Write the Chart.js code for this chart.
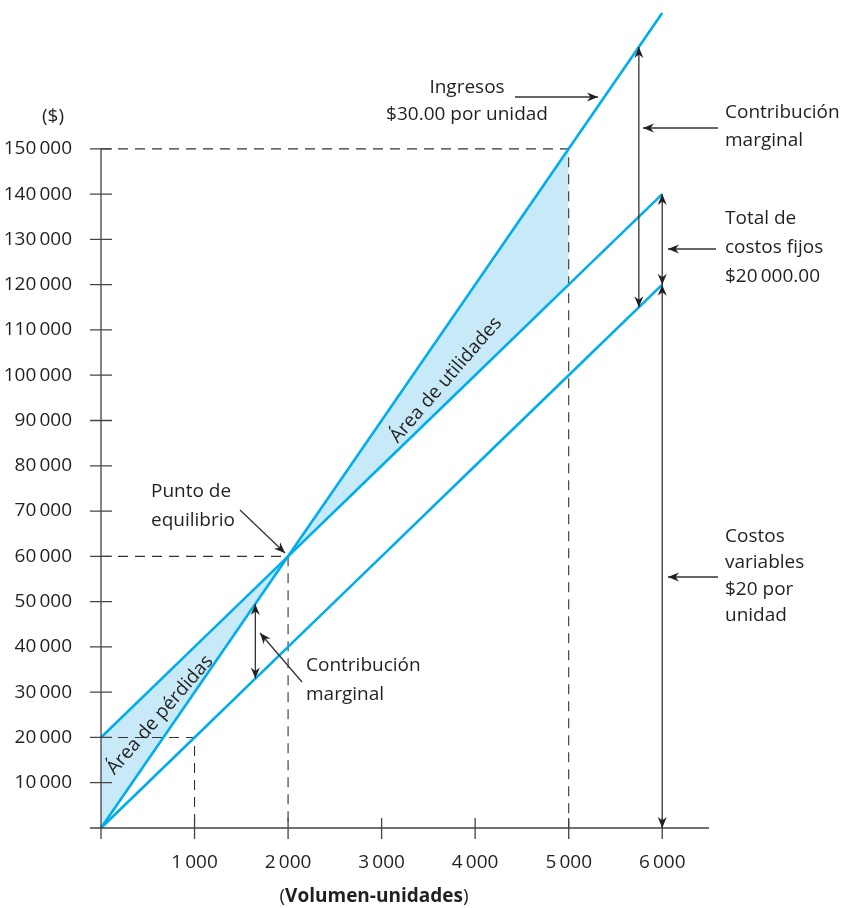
<!DOCTYPE html>
<html><head><meta charset="utf-8">
<script src="https://cdn.jsdelivr.net/npm/chart.js@4/dist/chart.umd.min.js"></script>
<style>html,body{margin:0;padding:0;background:#fff;}#wrap{width:848px;height:908px;position:relative;}</style>
</head><body><div id="wrap"><canvas id="c" width="848" height="908"></canvas></div>
<script>
// ---- data ----
const volume = [0, 1000, 2000, 3000, 4000, 5000, 6000];
const revenue = [0, 30000, 60000, 90000, 120000, 150000, 180000];
const totalCost = [20000, 40000, 60000, 80000, 100000, 120000, 140000];
const variableCost = [0, 20000, 40000, 60000, 80000, 100000, 120000];
const xTickValues = [1000, 2000, 3000, 4000, 5000, 6000];
const xTickLabels = ['1\u2009000', '2\u2009000', '3\u2009000', '4\u2009000', '5\u2009000', '6\u2009000'];
const yTickValues = [10000, 20000, 30000, 40000, 50000, 60000, 70000, 80000, 90000, 100000, 110000, 120000, 130000, 140000, 150000];
const yTickLabels = ['10\u2009000', '20\u2009000', '30\u2009000', '40\u2009000', '50\u2009000', '60\u2009000', '70\u2009000', '80\u2009000', '90\u2009000', '100\u2009000', '110\u2009000', '120\u2009000', '130\u2009000', '140\u2009000', '150\u2009000'];
const profitEndVolume = 5000;
const breakEven = [2000, 60000];
const profitEnd = [5000, 150000];
const fixedRef = [1000, 20000];

const CYAN = '#00aeef';
const FILL = '#c7e9f8';
const INK = '#231f20';
const FONT = '"Open Sans", "DejaVu Sans", sans-serif';

const pts = (ys) => volume.map((x, i) => ({x, y: ys[i]}));
const ptsUpTo = (ys, lim) => volume.map((x, i) => ({x, y: ys[i]})).filter(p => p.x <= lim);
const refLine = (r) => [{x: 0, y: r[1]}, {x: r[0], y: r[1]}, {x: r[0], y: 0}];

const lineDs = (data) => ({data, borderColor: CYAN, borderWidth: 2.6, pointRadius: 0, fill: false, tension: 0, order: 0, clip: false});
const dashDs = (data) => ({data, borderColor: '#333', borderWidth: 1.1, borderDash: [10, 7], pointRadius: 0, fill: false, tension: 0, order: 1});

function arrowHead(ctx, x, y, ang) {
  ctx.save();
  ctx.translate(x, y); ctx.rotate(ang);
  ctx.beginPath();
  ctx.moveTo(0, 0); ctx.lineTo(-11, -4.5); ctx.lineTo(-7.5, 0); ctx.lineTo(-11, 4.5); ctx.closePath();
  ctx.fillStyle = INK; ctx.fill();
  ctx.restore();
}
function arrow(ctx, x1, y1, x2, y2, both) {
  ctx.save();
  ctx.strokeStyle = '#333'; ctx.lineWidth = 1.3; ctx.setLineDash([]);
  ctx.beginPath(); ctx.moveTo(x1, y1); ctx.lineTo(x2, y2); ctx.stroke();
  const a = Math.atan2(y2 - y1, x2 - x1);
  arrowHead(ctx, x2, y2, a);
  if (both) arrowHead(ctx, x1, y1, a + Math.PI);
  ctx.restore();
}

const annot = {
  id: 'annot',
  afterDraw(chart) {
    const ctx = chart.ctx, xs = chart.scales.x, ys = chart.scales.y;
    const px = v => xs.getPixelForValue(v), py = v => ys.getPixelForValue(v);
    ctx.save();
    // axes
    ctx.strokeStyle = '#444'; ctx.lineWidth = 1.3;
    ctx.beginPath();
    ctx.moveTo(px(0), py(0) + 11); ctx.lineTo(px(0), py(150000));
    ctx.moveTo(px(0) - 11, py(0)); ctx.lineTo(chart.chartArea.right, py(0));
    yTickValues.forEach(v => { ctx.moveTo(px(0) - 11, py(v)); ctx.lineTo(px(0) + 11, py(v)); });
    xTickValues.forEach(v => { ctx.moveTo(px(v), py(0) - 10); ctx.lineTo(px(v), py(0) + 11); });
    ctx.stroke();

    // double arrows
    arrow(ctx, px(5750), py(5750 * 30), px(5750), py(5750 * 20), true);
    arrow(ctx, px(6000), py(140000), px(6000), py(120000), true);
    arrow(ctx, px(6000), py(120000), px(6000), py(0), true);
    arrow(ctx, px(1650), py(1650 * 30), px(1650), py(1650 * 20), true);
    // label arrows
    arrow(ctx, 515, 97, 598, 97);
    arrow(ctx, 718, 128, 643, 128);
    arrow(ctx, 716, 249, 668, 249);
    arrow(ctx, 718, 577, 668, 577);
    arrow(ctx, 240, 510, 285, 553);
    arrow(ctx, 302, 682, 260, 633);

    // texts
    ctx.fillStyle = INK;
    ctx.font = '19px ' + FONT;
    ctx.textBaseline = 'middle';
    ctx.textAlign = 'center';
    ctx.fillText('($)', 53, 117);
    ctx.fillText('Ingresos', 467, 88);
    ctx.fillText('$30.00 por unidad', 467, 115);
    ctx.textAlign = 'left';
    [['Contribución', 113], ['marginal', 141], ['Total de', 219], ['costos fijos', 248], ['$20\u2009000.00', 277],
     ['Costos', 537], ['variables', 563], ['$20 por', 590], ['unidad', 616]].forEach(([t, y]) => ctx.fillText(t, 725, y));
    ctx.fillText('Punto de', 151, 492);
    ctx.fillText('equilibrio', 151, 521);
    ctx.fillText('Contribución', 306, 666);
    ctx.fillText('marginal', 306, 695);

    // rotated labels
    ctx.textAlign = 'center';
    ctx.save(); ctx.translate(446, 380); ctx.rotate(-49 * Math.PI / 180); ctx.fillText('Área de utilidades', 0, 0); ctx.restore();
    ctx.save(); ctx.translate(160, 715); ctx.rotate(-49 * Math.PI / 180); ctx.fillText('Área de pérdidas', 0, 0); ctx.restore();

    // x title
    const pL = '(', mid = 'Volumen-unidades', pR = ')';
    ctx.font = '19px ' + FONT; const wL = ctx.measureText(pL).width, wR = ctx.measureText(pR).width;
    ctx.font = 'bold 19px ' + FONT; const wM = ctx.measureText(mid).width;
    let x0 = 374 - (wL + wM + wR) / 2;
    ctx.textAlign = 'left';
    ctx.font = '19px ' + FONT; ctx.fillText(pL, x0, 897);
    ctx.font = 'bold 19px ' + FONT; ctx.fillText(mid, x0 + wL, 897);
    ctx.font = '19px ' + FONT; ctx.fillText(pR, x0 + wL + wM, 897);
    ctx.restore();
  }
};

new Chart(document.getElementById('c'), {
  type: 'line',
  data: {
    datasets: [
      lineDs(pts(revenue)),
      lineDs(pts(totalCost)),
      lineDs(pts(variableCost)),
      {data: ptsUpTo(revenue, profitEndVolume), borderWidth: 0, pointRadius: 0, tension: 0, backgroundColor: FILL, fill: {target: 4}, order: 2},
      {data: ptsUpTo(totalCost, profitEndVolume), borderWidth: 0, pointRadius: 0, tension: 0, fill: false, order: 2},
      dashDs(refLine(profitEnd)),
      dashDs(refLine(breakEven)),
      dashDs(refLine(fixedRef))
    ]
  },
  options: {
    responsive: false,
    animation: false,
    devicePixelRatio: 1,
    layout: {padding: {top: 13, right: 139, left: 0, bottom: 0}},
    plugins: {legend: {display: false}, tooltip: {enabled: false}},
    scales: {
      x: {
        type: 'linear', min: 0, max: 6500,
        afterBuildTicks: s => { s.ticks = xTickValues.map(v => ({value: v})); },
        afterFit: s => { s.height = 80; s.paddingLeft = 0; s.paddingRight = 0; },
        grid: {display: false}, border: {display: false},
        ticks: {callback: (v, i) => xTickLabels[i], color: INK, font: {size: 19, family: FONT}, padding: 15, maxRotation: 0, autoSkip: false}
      },
      y: {
        type: 'linear', min: 0, max: 180000,
        afterBuildTicks: s => { s.ticks = yTickValues.map(v => ({value: v})); },
        afterFit: s => { s.width = 101; s.paddingTop = 0; s.paddingBottom = 0; },
        grid: {display: false}, border: {display: false},
        ticks: {callback: (v, i) => yTickLabels[i], color: INK, font: {size: 19, family: FONT}, padding: 21, autoSkip: false}
      }
    }
  },
  plugins: [annot]
});
</script></body></html>
